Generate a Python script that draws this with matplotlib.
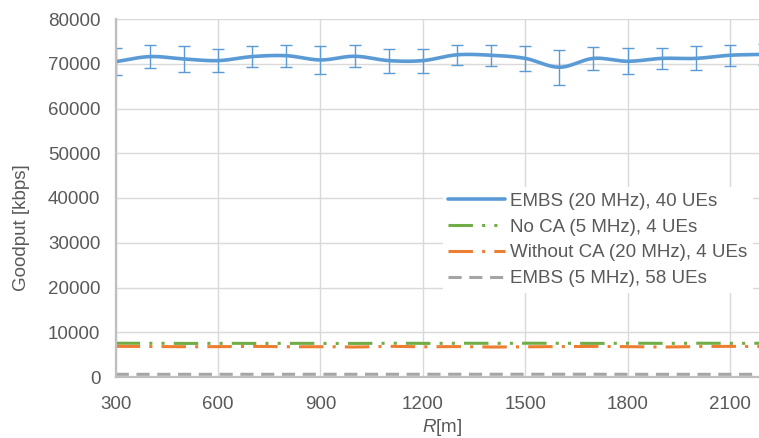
import numpy as np
import matplotlib
matplotlib.use("Agg")
import matplotlib.pyplot as plt

plt.rcParams['font.family'] = ['Liberation Sans', 'DejaVu Sans']
plt.rcParams['mathtext.fontset'] = 'custom'
plt.rcParams['mathtext.it'] = 'Liberation Sans:italic'
plt.rcParams['mathtext.rm'] = 'Liberation Sans'

# ---- data ----
R = [300, 400, 500, 600, 700, 800, 900, 1000, 1100, 1200,
     1300, 1400, 1500, 1600, 1700, 1800, 1900, 2000, 2100, 2200]
embs20 = [70470, 71600, 71070, 70700, 71600, 71800, 70850, 71670, 70700, 70700,
          72000, 71900, 71200, 69220, 71200, 70550, 71200, 71200, 71900, 72100]
embs20_err = [3000, 2500, 2900, 2600, 2300, 2500, 3100, 2500, 2700, 2700,
              2300, 2300, 2800, 3900, 2500, 2900, 2300, 2700, 2400, 2400]
noca5 = [7550, 7550, 7500, 7550, 7500, 7550, 7500, 7500, 7550, 7500,
         7550, 7500, 7550, 7500, 7500, 7550, 7500, 7550, 7500, 7550]
withoutca20 = [6850, 6800, 6750, 6800, 6850, 6750, 6800, 6700, 6850, 6750,
               6800, 6700, 6750, 6800, 6850, 6750, 6700, 6800, 6850, 6800]
embs5 = [600, 600, 620, 600, 610, 600, 600, 620, 600, 610,
         600, 600, 610, 600, 620, 600, 600, 610, 600, 600]

labels = ["EMBS (20 MHz), 40 UEs", "No CA (5 MHz), 4 UEs",
          "Without CA (20 MHz), 4 UEs", "EMBS (5 MHz), 58 UEs"]
xticks = [300, 600, 900, 1200, 1500, 1800, 2100]
yticks = [0, 10000, 20000, 30000, 40000, 50000, 60000, 70000, 80000]

C_BLUE, C_GREEN, C_ORANGE, C_GREY = "#5B9BD5", "#70AD47", "#ED7D31", "#A5A5A5"
TXT = "#595959"
FS = 13.5


def smooth(x, y, n=20):
    x = np.asarray(x, float)
    y = np.asarray(y, float)
    px = np.concatenate([[2 * x[0] - x[1]], x, [2 * x[-1] - x[-2]]])
    py = np.concatenate([[2 * y[0] - y[1]], y, [2 * y[-1] - y[-2]]])
    xs, ys = [], []
    t = np.linspace(0, 1, n, endpoint=False)
    for i in range(1, len(px) - 2):
        p0x, p0y = px[i], py[i]
        p3x, p3y = px[i + 1], py[i + 1]
        c1x = p0x + (px[i + 1] - px[i - 1]) / 6
        c1y = p0y + (py[i + 1] - py[i - 1]) / 6
        c2x = p3x - (px[i + 2] - px[i]) / 6
        c2y = p3y - (py[i + 2] - py[i]) / 6
        b0 = (1 - t) ** 3
        b1 = 3 * (1 - t) ** 2 * t
        b2 = 3 * (1 - t) * t ** 2
        b3 = t ** 3
        xs.append(b0 * p0x + b1 * c1x + b2 * c2x + b3 * p3x)
        ys.append(b0 * p0y + b1 * c1y + b2 * c2y + b3 * p3y)
    xs.append([x[-1]])
    ys.append([y[-1]])
    return np.concatenate(xs), np.concatenate(ys)


fig = plt.figure(figsize=(7.59, 4.38), dpi=100)
ax = fig.add_axes([115.7 / 759, 1 - 377 / 438, 1 - 115.7 / 759, 358 / 438])

lw = 2.2
sx, sy = smooth(R, embs20)
ax.plot(sx, sy, color=C_BLUE, lw=2.6, label=labels[0], zorder=5,
        solid_capstyle='round')
ax.errorbar(R, embs20, yerr=embs20_err, fmt='none', ecolor=C_BLUE,
            elinewidth=1.0, capsize=4.2, capthick=1.0, zorder=4)

sx, sy = smooth(R, noca5)
ax.plot(sx, sy, color=C_GREEN, lw=lw, dashes=(8, 3, 1, 3, 1, 3),
        label=labels[1], zorder=3)
sx, sy = smooth(R, withoutca20)
ax.plot(sx, sy, color=C_ORANGE, lw=lw, dashes=(8, 3, 1, 3),
        label=labels[2], zorder=3)
sx, sy = smooth(R, embs5)
ax.plot(sx, sy, color=C_GREY, lw=lw, dashes=(4.3, 2.5),
        label=labels[3], zorder=3)

ax.set_xlim(300, 2185)
ax.set_ylim(0, 80000)
ax.set_xticks(xticks)
ax.set_yticks(yticks)
ax.set_xticklabels([str(v) for v in xticks])
ax.set_yticklabels([str(v) for v in yticks])
ax.tick_params(axis='both', length=0, labelsize=FS, labelcolor=TXT)
ax.tick_params(axis='y', pad=11)
ax.tick_params(axis='x', pad=14)
ax.grid(True, color="#D9D9D9", lw=1.0, zorder=0)
ax.set_axisbelow(True)
for s in ['top', 'right']:
    ax.spines[s].set_visible(False)
for s in ['left', 'bottom']:
    ax.spines[s].set_color("#BFBFBF")
    ax.spines[s].set_linewidth(1.6)
    ax.spines[s].set_zorder(6)

fig.text(22 / 759, 1 - 228 / 438, "Goodput [kbps]", rotation=90,
         ha='center', va='center', fontsize=FS, color=TXT)
fig.text(442 / 759, 1 - 427 / 438, r"$\mathit{R}$[m]",
         ha='center', va='center', fontsize=FS, color=TXT)

leg = ax.legend(loc='center', bbox_to_anchor=(598 / 759, 1 - 240 / 438),
                bbox_transform=fig.transFigure, frameon=True, fancybox=False,
                facecolor='white', edgecolor='none', framealpha=1,
                fontsize=FS, handlelength=3.0, handletextpad=0.3,
                labelspacing=0.46, borderpad=0.3)
for t in leg.get_texts():
    t.set_color(TXT)
leg.set_zorder(10)

fig.savefig("out.png", dpi=100)
